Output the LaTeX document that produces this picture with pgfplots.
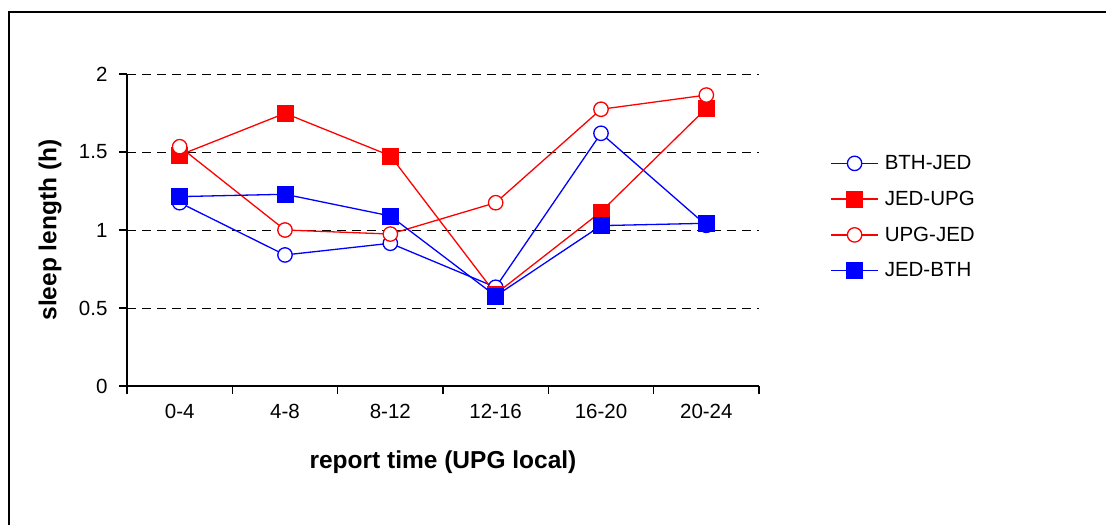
\documentclass[border=0pt]{standalone}
\usepackage{fontspec}
\setmainfont{Liberation Sans}
\usepackage{pgfplots}
\pgfplotsset{compat=1.18}

\begin{document}
\begin{tikzpicture}[x=1pt,y=1pt]
\useasboundingbox (0,0) rectangle (1106,525);
% outer chart frame (cut at right and bottom)
\draw[line width=2pt] (9,0) -- (9,513) -- (1106,513);
\begin{axis}[
    at={(127pt,139pt)}, anchor=south west,
    width=632pt, height=312pt, scale only axis,
    xmin=-0.5, xmax=5.5, ymin=0, ymax=2,
    axis x line*=bottom, axis y line*=left,
    axis line style={-, line width=1.3pt, black},
    xtick={0,...,5}, xticklabels={0-4,4-8,8-12,12-16,16-20,20-24},
    minor xtick={-0.5,0.5,...,5.5},
    ytick={0,0.5,1,1.5,2}, yticklabels={0,0.5,1,1.5,2},
    tick align=outside, major tick length=8pt, minor tick length=8pt,
    tick style={black, line width=1.3pt},
    major x tick style={draw=none},
    ymajorgrids, grid style={black, line width=0.9pt, dash pattern=on 9pt off 6pt},
    /pgf/number format/assume math mode=true,
    tick label style={font=\fontsize{20.5}{24}\selectfont},
    xticklabel style={yshift=-7pt},
    yticklabel style={xshift=-8pt},
    label style={font=\bfseries\fontsize{24.5}{28}\selectfont},
    xlabel={report time (UPG local)},
    ylabel={sleep length (h)},
    xlabel style={at={(axis description cs:0.5,-0.2436)}, anchor=center},
    ylabel style={at={(axis description cs:-0.1218,0.5)}, anchor=center},
    clip=false,
    legend style={at={(axis description cs:1.108,0.752)}, anchor=north west,
        draw=none, fill=none, font=\fontsize{20.5}{24}\selectfont, row sep=16pt},
    legend cell align=left,
    legend image code/.code={\draw[line width=1.3pt,mark repeat=2,mark phase=2] plot coordinates {(0pt,0pt) (23.5pt,0pt) (47pt,0pt)}; \path (51pt,0pt);},
    every axis plot/.append style={line width=1.3pt},
]
\addplot[blue, mark=*, mark size=7.2pt, mark options={fill=white, line width=1.3pt}]
  coordinates {(0,1.175) (1,0.840) (2,0.915) (3,0.633) (4,1.620) (5,1.030)};
\addplot[red, mark=square*, mark size=8pt, mark options={fill=red, line width=0.4pt}]
  coordinates {(0,1.480) (1,1.748) (2,1.476) (3,0.590) (4,1.117) (5,1.780)};
\addplot[red, mark=*, mark size=7.2pt, mark options={fill=white, line width=1.3pt}]
  coordinates {(0,1.534) (1,1.000) (2,0.974) (3,1.175) (4,1.774) (5,1.865)};
\addplot[blue, mark=square*, mark size=8pt, mark options={fill=blue, line width=0.4pt}]
  coordinates {(0,1.214) (1,1.229) (2,1.090) (3,0.577) (4,1.028) (5,1.043)};
\legend{BTH-JED,JED-UPG,UPG-JED,JED-BTH}
\end{axis}
\end{tikzpicture}
\end{document}
